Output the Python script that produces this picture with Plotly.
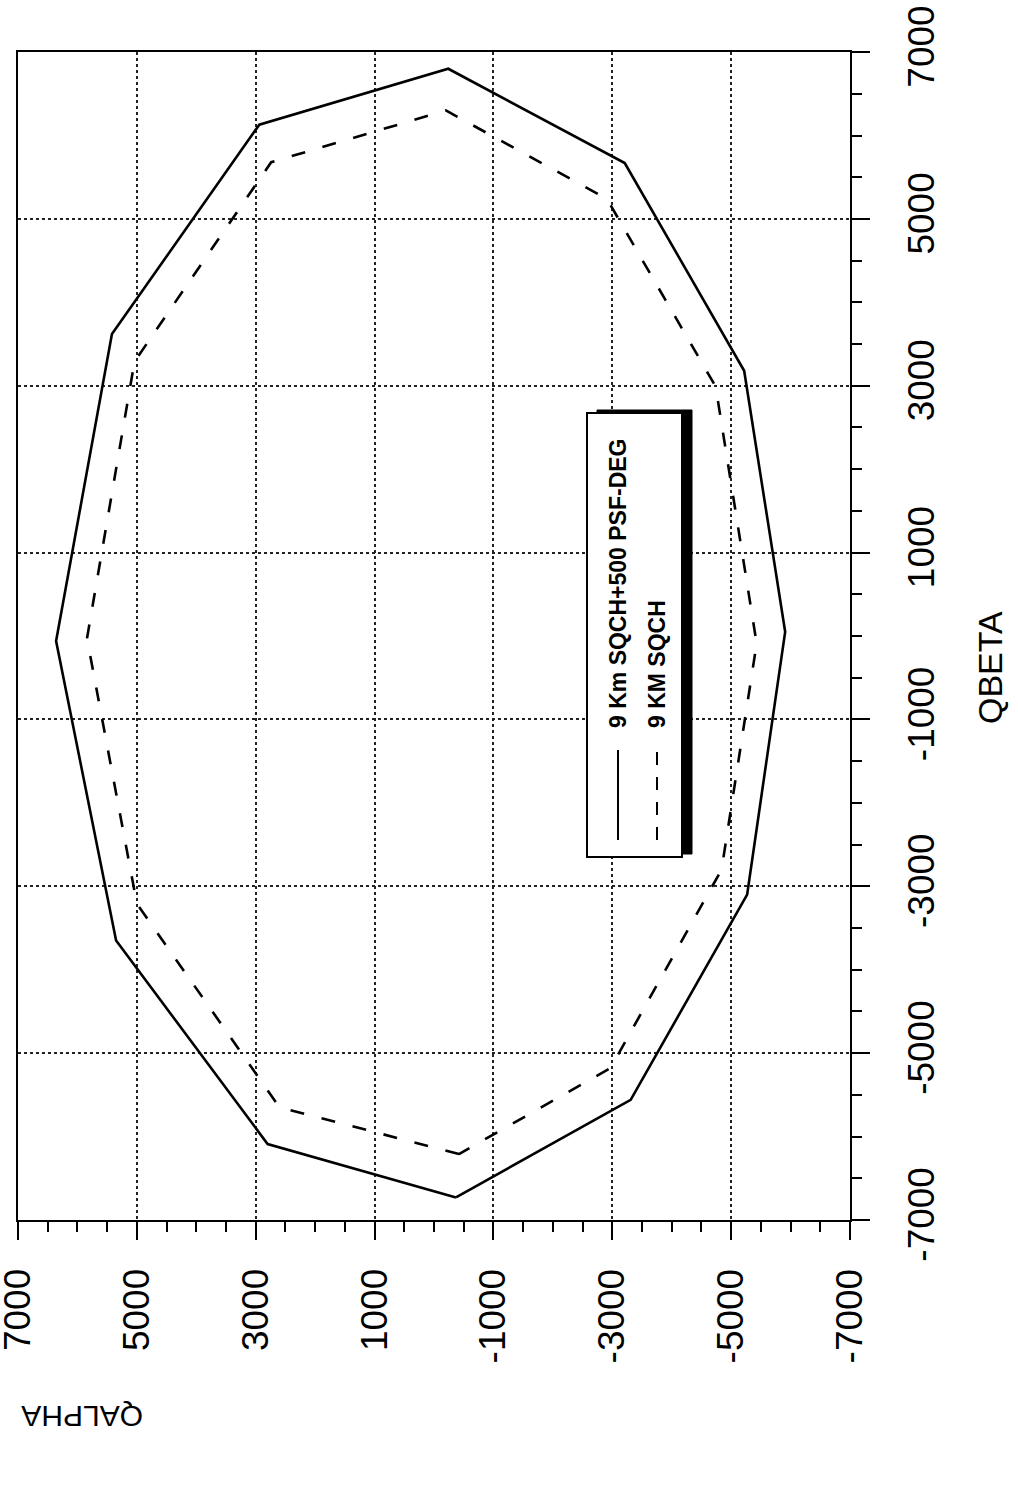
import plotly.graph_objects as go

# ---- data ----
solid_name = "9 Km SQCH+500 PSF-DEG"
solid_qalpha = [-370, 2800, 5350, 6360, 5420, 2940, -240, -3210, -5220, -5910, -5270, -3310, -370]
solid_qbeta = [-6730, -6090, -3650, -60, 3620, 6130, 6800, 5670, 3180, 50, -3100, -5560, -6730]

dashed_name = "9 KM SQCH"
dashed_qalpha = [-420, 2600, 5000, 5840, 5040, 2740, -200, -2910, -4740, -5430, -4840, -2970, -420]
dashed_qbeta = [-6210, -5650, -3210, -30, 3290, 5680, 6300, 5240, 2990, -90, -2800, -5180, -6210]

tick_vals = [-7000, -5000, -3000, -1000, 1000, 3000, 5000, 7000]
tick_text = ["-7000", "-5000", "-3000", "-1000", "1000", "3000", "5000", "7000"]

# ---- layout geometry (page pixels) ----
W, H = 1018, 1490
PX0, PX1, PY0, PY1 = 18, 850, 52, 1220


def pxx(p):
    return (p - PX0) / (PX1 - PX0)


def pxy(p):
    return (PY1 - p) / (PY1 - PY0)


fig = go.Figure()
fig.add_trace(go.Scatter(x=solid_qalpha, y=solid_qbeta, mode="lines", name=solid_name,
                         line=dict(color="black", width=2.6)))
fig.add_trace(go.Scatter(x=dashed_qalpha, y=dashed_qbeta, mode="lines", name=dashed_name,
                         line=dict(color="black", width=2.6, dash="14px,18px")))

tickfont = dict(family="Liberation Sans", size=37, color="black")
common = dict(
    tickmode="array", tickvals=tick_vals, ticktext=tick_text, tickangle=-90,
    ticks="outside", ticklen=18, tickwidth=2, tickcolor="black",
    showline=True, linewidth=2, linecolor="black", mirror=True,
    showgrid=True, gridcolor="#222", griddash="dot", gridwidth=2,
    zeroline=False, tickfont=tickfont, automargin=False, ticklabeloverflow="allow",
    minor=dict(ticks="outside", ticklen=10, tickwidth=2, tickcolor="black",
               tickmode="linear", tick0=0, dtick=500, showgrid=False),
)
fig.update_xaxes(range=[7001, -7001], ticklabelstandoff=14, **common)
fig.update_yaxes(range=[-7001, 7001], side="right", ticklabelstandoff=20, **common)

shapes = [
    # legend shadow
    dict(type="rect", xref="paper", yref="paper",
         x0=pxx(597), x1=pxx(692), y0=pxy(854), y1=pxy(410),
         fillcolor="black", line=dict(color="black", width=1)),
    # legend box
    dict(type="rect", xref="paper", yref="paper",
         x0=pxx(587), x1=pxx(682), y0=pxy(857), y1=pxy(413),
         fillcolor="white", line=dict(color="black", width=2)),
    # legend samples
    dict(type="line", xref="paper", yref="paper",
         x0=pxx(618), x1=pxx(618), y0=pxy(840), y1=pxy(750),
         line=dict(color="black", width=2)),
    dict(type="line", xref="paper", yref="paper",
         x0=pxx(657), x1=pxx(657), y0=pxy(840), y1=pxy(750),
         line=dict(color="black", width=2, dash="13px,12px")),
]

lfont = dict(family="Liberation Sans", size=23, color="black", weight="bold")
annotations = [
    dict(text=solid_name, xref="paper", yref="paper", x=pxx(618), y=pxy(730),
         xanchor="center", yanchor="bottom", textangle=-90, showarrow=False, font=lfont),
    dict(text=dashed_name, xref="paper", yref="paper", x=pxx(657), y=pxy(730),
         xanchor="center", yanchor="bottom", textangle=-90, showarrow=False, font=lfont),
    dict(text="QBETA", xref="paper", yref="paper", x=pxx(990), y=pxy(668),
         xanchor="center", yanchor="middle", textangle=-90, showarrow=False,
         font=dict(family="Liberation Sans", size=34, color="black")),
    dict(text="QALPHA", xref="paper", yref="paper", x=pxx(82), y=pxy(1417),
         xanchor="center", yanchor="middle", textangle=180, showarrow=False,
         font=dict(family="Liberation Sans", size=30, color="black")),
]

fig.update_layout(
    width=W, height=H,
    margin=dict(l=PX0, r=W - PX1, t=PY0, b=H - PY1),
    plot_bgcolor="white", paper_bgcolor="white",
    showlegend=False, shapes=shapes, annotations=annotations,
)

fig.write_html("out.html", config={"displayModeBar": False},
               post_script="document.body.style.margin='0';document.body.style.overflow='hidden';")
